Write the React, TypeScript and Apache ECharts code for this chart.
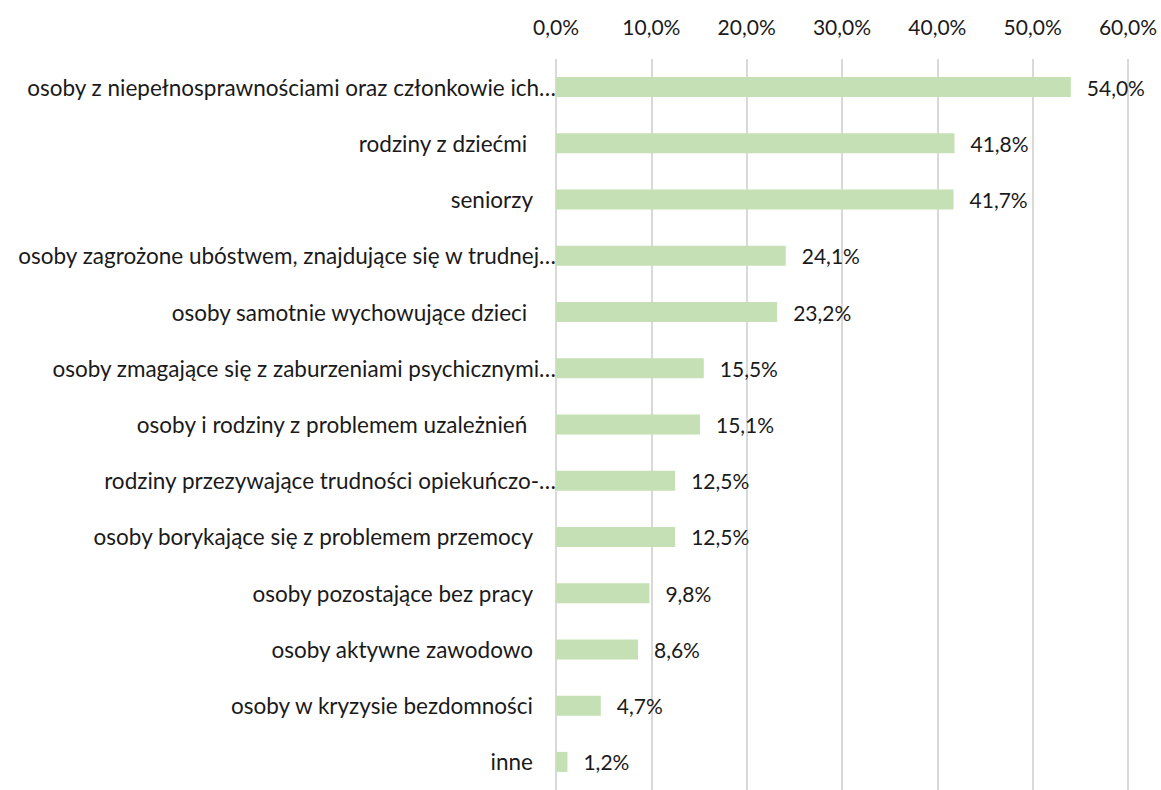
import React, { useEffect, useRef } from "react";
import * as echarts from "echarts";

const categories = [
  "osoby z niepełnosprawnościami oraz członkowie ich…",
  "rodziny z dziećmi ",
  "seniorzy",
  "osoby zagrożone ubóstwem, znajdujące się w trudnej…",
  "osoby samotnie wychowujące dzieci ",
  "osoby zmagające się z zaburzeniami psychicznymi…",
  "osoby i rodziny z problemem uzależnień ",
  "rodziny przezywające trudności opiekuńczo-…",
  "osoby borykające się z problemem przemocy",
  "osoby pozostające bez pracy",
  "osoby aktywne zawodowo",
  "osoby w kryzysie bezdomności",
  "inne",
];
const values = [54.0, 41.8, 41.7, 24.1, 23.2, 15.5, 15.1, 12.5, 12.5, 9.8, 8.6, 4.7, 1.2];
const tickValues = [0, 10, 20, 30, 40, 50, 60];

const FONT = 'Lato, "Open Sans", sans-serif';
const FS_CAT = 22.5;
const FS_NUM = 21;
const TEXT = "#1a1a1a";
const fmt = (v: number) => v.toFixed(1).replace(".", ",") + "%";
const isTrunc = (s: string) => s.endsWith("…");

export default function App() {
  const ref = useRef<HTMLDivElement>(null);
  useEffect(() => {
    document.body.style.margin = "0";
    document.body.style.overflow = "hidden";
    const chart = echarts.init(ref.current!, undefined, { renderer: "svg" });
    chart.setOption({
      animation: false,
      backgroundColor: "#ffffff",
      grid: { left: 556, right: 33, top: 59, bottom: -6, containLabel: false },
      xAxis: {
        type: "value",
        position: "top",
        min: tickValues[0],
        max: tickValues[tickValues.length - 1],
        interval: 10,
        axisLine: { show: false },
        axisTick: { show: false },
        splitLine: { show: true, lineStyle: { color: "#D9D9D9", width: 2 } },
        axisLabel: {
          margin: 22,
          fontFamily: FONT,
          fontSize: FS_NUM,
          color: TEXT,
          formatter: (v: number) => fmt(v),
        },
      },
      yAxis: [
        {
          type: "category",
          data: categories,
          inverse: true,
          axisLine: { show: false },
          axisTick: { show: false },
          axisLabel: {
            margin: 23,
            fontFamily: FONT,
            fontSize: FS_CAT,
            color: TEXT,
            formatter: (s: string) => (isTrunc(s) ? "" : s),
          },
        },
        {
          type: "category",
          data: categories,
          inverse: true,
          position: "left",
          axisLine: { show: false },
          axisTick: { show: false },
          axisLabel: {
            margin: 0,
            fontFamily: FONT,
            fontSize: FS_CAT,
            color: TEXT,
            formatter: (s: string) => (isTrunc(s) ? s : ""),
          },
        },
      ],
      series: [
        {
          type: "bar",
          data: values,
          barWidth: 20,
          itemStyle: { color: "#C5E0B4" },
          label: {
            show: true,
            position: "right",
            distance: 16,
            fontFamily: FONT,
            fontSize: FS_NUM,
            color: TEXT,
            formatter: (p: any) => fmt(p.value),
          },
        },
      ],
    });
    return () => chart.dispose();
  }, []);
  return <div ref={ref} style={{ width: 1161, height: 790 }} />;
}
